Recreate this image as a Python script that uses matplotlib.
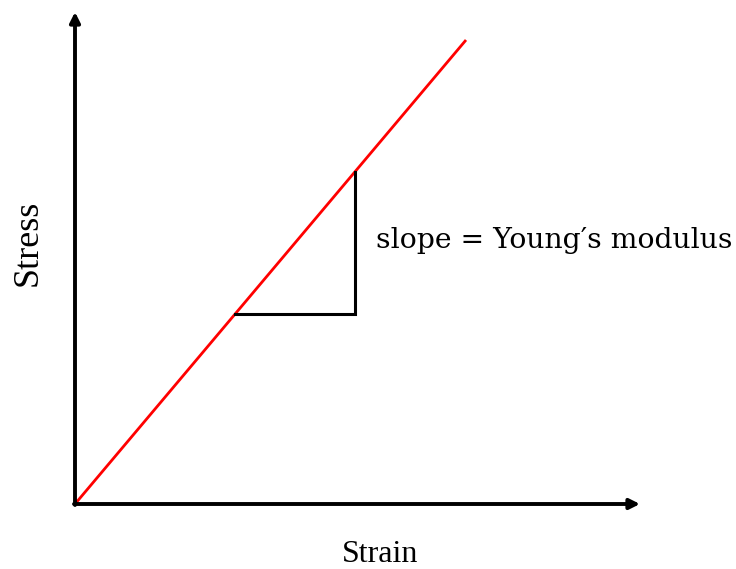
import matplotlib
matplotlib.use("Agg")
import matplotlib.pyplot as plt

# elastic line (arbitrary units)
strain_line = [0.0, 3.91]
stress_line = [0.0, 4.64]

# slope triangle corners
tri_strain = [1.60, 2.80, 2.80]
tri_stress = [1.90, 1.90, 3.32]

# axis extents
x_axis_end = 5.65
y_axis_end = 4.92

xlabel = "Strain"
ylabel = "Stress"
note = "slope = Young\u2032s modulus"

plt.rcParams["font.family"] = ["Liberation Serif", "DejaVu Serif"]

fig = plt.figure(figsize=(7.36, 5.69), dpi=100)
ax = fig.add_axes([0, 0, 1, 1])
ax.set_xlim(-0.75, 6.61)
ax.set_ylim(-0.65, 5.04)
ax.axis("off")

arrow = dict(arrowstyle="-|>,head_length=0.6,head_width=0.3", color="black",
             lw=2.8, shrinkA=0, shrinkB=0)
ax.annotate("", xy=(x_axis_end, 0), xytext=(-0.01, 0), arrowprops=arrow)
ax.annotate("", xy=(0, y_axis_end), xytext=(0, -0.01), arrowprops=arrow)

ax.plot(strain_line, stress_line, color="#ff0000", lw=2, solid_capstyle="butt")
ax.plot(tri_strain, tri_stress, color="black", lw=2.2, solid_joinstyle="miter")

ax.text(3.01, 2.64, note, fontsize=20.3, ha="left", va="center",
        family=["DejaVu Serif"])
ax.text(3.05, -0.50, xlabel, fontsize=23, ha="center", va="center")
ax.text(-0.47, 2.61, ylabel, fontsize=26, ha="center", va="center", rotation=90)

fig.savefig("out.png", dpi=100)
